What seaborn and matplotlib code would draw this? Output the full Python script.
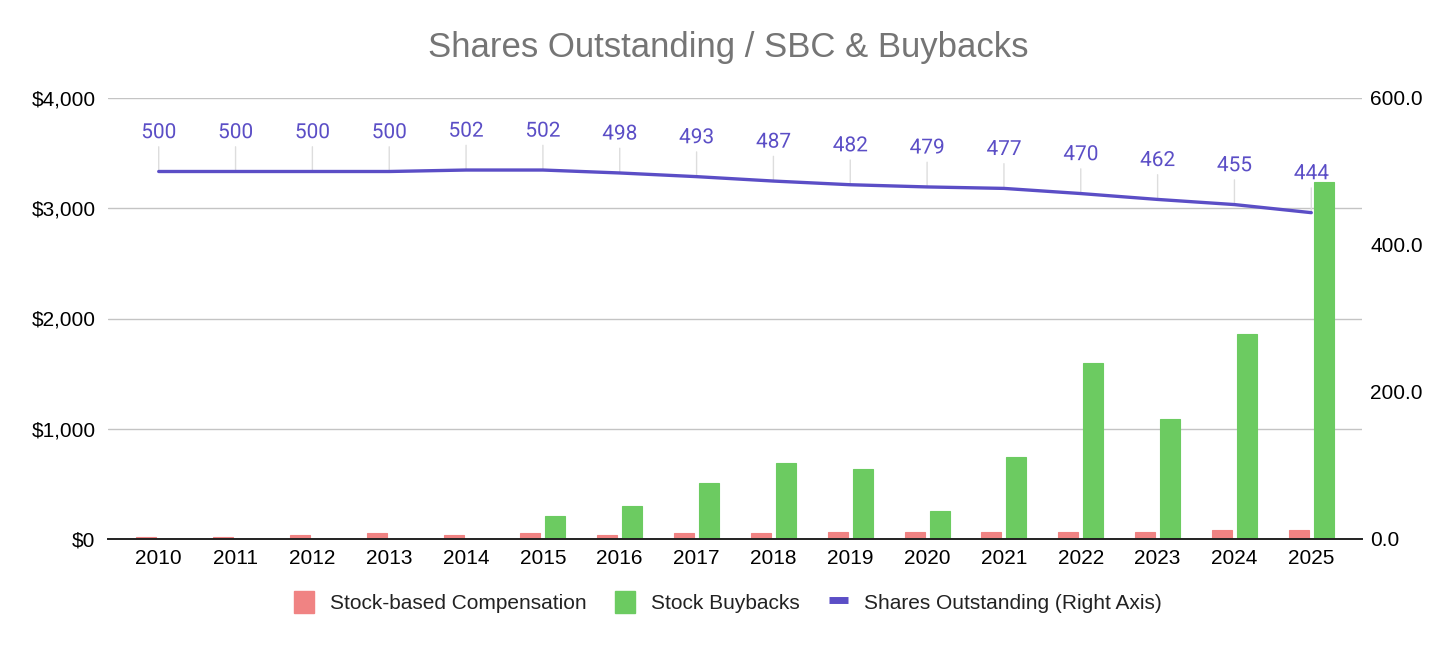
import numpy as np
import pandas as pd
import matplotlib
matplotlib.use("Agg")
import matplotlib.pyplot as plt
import matplotlib.patheffects as pe
from matplotlib.patches import Patch
from matplotlib.lines import Line2D
from matplotlib.ticker import FuncFormatter
import seaborn as sns

years = ["2010", "2011", "2012", "2013", "2014", "2015", "2016", "2017",
         "2018", "2019", "2020", "2021", "2022", "2023", "2024", "2025"]
sbc = [20, 20, 35, 50, 35, 50, 35, 50, 50, 65, 65, 65, 65, 65, 80, 80]
buybacks = [0, 0, 0, 0, 0, 209, 302, 508, 693, 633, 257, 742, 1596, 1090, 1862, 3236]
shares = [500, 500, 500, 500, 502, 502, 498, 493, 487, 482, 479, 477, 470, 462, 455, 444]

series_names = ["Stock-based Compensation", "Stock Buybacks"]
line_name = "Shares Outstanding (Right Axis)"
title = "Shares Outstanding / SBC & Buybacks"

RED = "#F08383"
GREEN = "#6CCB61"
PURPLE = "#5B4EC6"

sns.set_theme(style="white")
plt.rcParams["font.family"] = ["Liberation Sans", "DejaVu Sans"]

df = pd.DataFrame({
    "year": years * 2,
    "value": sbc + buybacks,
    "series": [series_names[0]] * len(years) + [series_names[1]] * len(years),
})

fig = plt.figure(figsize=(14.56, 6.45), dpi=100)
ax = fig.add_axes([108 / 1456, 1 - 539 / 645, (1362 - 108) / 1456, (539 - 98) / 645])

sns.barplot(data=df, x="year", y="value", hue="series", order=years,
            hue_order=series_names, palette=[RED, GREEN], saturation=1,
            width=0.65, gap=0.2, ax=ax, legend=False, zorder=2)
for p in ax.patches:
    p.set_edgecolor(p.get_facecolor())
    p.set_linewidth(0.8)

ax.set_ylim(0, 4000)
ax.set_yticks([0, 1000, 2000, 3000, 4000])
ax.yaxis.set_major_formatter(FuncFormatter(lambda v, _: f"${v:,.0f}"))
ax.set_xlim(-0.66, 15.66)
ax.grid(axis="y", color="#C4C4C4", lw=1, zorder=0)
ax.set_axisbelow(True)
ax.set_xlabel("")
ax.set_ylabel("")
for s in ["top", "left", "right"]:
    ax.spines[s].set_visible(False)
ax.spines["bottom"].set_color("#222222")
ax.spines["bottom"].set_linewidth(1.4)
ax.spines["bottom"].set_zorder(3)
ax.tick_params(axis="both", length=0, labelsize=15, colors="black")
ax.tick_params(axis="y", pad=9)
ax.tick_params(axis="x", pad=7)

ax2 = ax.twinx()
xpos = np.arange(len(years))
sns.lineplot(x=xpos, y=shares, ax=ax2, color=PURPLE, lw=2.4, zorder=5)
ax2.set_ylim(0, 600)
ax2.set_yticks([0, 200, 400, 600])
ax2.yaxis.set_major_formatter(FuncFormatter(lambda v, _: f"{v:.1f}"))
ax2.tick_params(axis="y", length=0, labelsize=15, colors="black", pad=6)
ax2.grid(False)
for s in ["top", "left", "right", "bottom"]:
    ax2.spines[s].set_visible(False)
ax2.set_xlim(-0.66, 15.66)

for xi, v in zip(xpos, shares):
    ax2.annotate(f"{v}", xy=(xi, v), xytext=(0, 28), textcoords="offset points",
                 ha="center", va="center", fontsize=15, color=PURPLE,
                 family=["Roboto", "DejaVu Sans"],
                 path_effects=[pe.withStroke(linewidth=3, foreground="white")],
                 arrowprops=dict(arrowstyle="-", color="#DDDDDD", lw=1,
                                 shrinkA=1, shrinkB=0),
                 zorder=4)

fig.text(0.5, 1 - 48 / 645, title, ha="center", va="center",
         fontsize=25, color="#757575")

handles = [
    Patch(facecolor=RED, edgecolor=RED, label=series_names[0]),
    Patch(facecolor=GREEN, edgecolor=GREEN, label=series_names[1]),
    Line2D([0], [0], color=PURPLE, lw=5, solid_capstyle="butt", label=line_name),
]
fig.legend(handles=handles, loc="center", bbox_to_anchor=(0.5, 1 - 602 / 645),
           ncol=3, frameon=False, fontsize=15, handlelength=0.95,
           handleheight=1.3, handletextpad=0.75, columnspacing=1.4,
           labelcolor="#222222")

fig.savefig("out.png", dpi=100, facecolor="white")
